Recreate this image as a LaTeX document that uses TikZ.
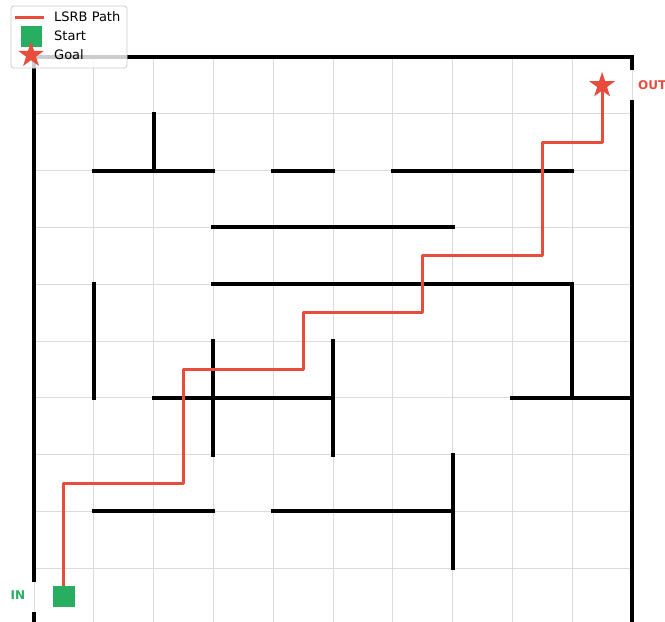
\documentclass[tikz,border=0pt]{standalone}
\usepackage{fontspec}
\setmainfont{DejaVu Sans}
\usetikzlibrary{shapes.geometric}
\definecolor{pathred}{HTML}{E74C3C}
\definecolor{startgreen}{HTML}{27AE60}
\begin{document}
\begin{tikzpicture}[x=59.8pt,y=56.8pt,
  wall/.style={line width=4pt, line cap=rect},
  gridline/.style={line width=0.8pt, draw=black!14},
  route/.style={line width=3pt, draw=pathred, line join=round},
  startbox/.style={fill=startgreen, minimum size=21.5pt, inner sep=0pt},
  goalstar/.style={star, star points=5, star point ratio=2.6, fill=pathred, minimum size=27pt, inner sep=0pt},
  lbl/.style={font=\fontsize{12}{14}\selectfont\bfseries, inner sep=0pt},
  legtext/.style={font=\fontsize{13}{15}\selectfont, anchor=west, inner sep=0pt},
  legbox/.style={draw=black!20, line width=0.8pt, fill=white, fill opacity=0.8, rounded corners=3pt}
]
\useasboundingbox (-0.569,0.070) rectangle (10.552,11.004);
\fill[white] (-0.569,0.070) rectangle (10.552,11.004);
% grid
\foreach \i in {0,...,10} {
  \draw[gridline] (\i,0) -- (\i,10);
  \draw[gridline] (0,\i) -- (10,\i);
}
% outer walls
\draw[wall] (0,10) -- (10,10);
\draw[wall] (0,-0.5) -- (0,0.2);
\draw[wall] (0,0.8) -- (0,10);
\draw[wall] (10,-0.5) -- (10,9.2);
\draw[wall] (10,9.8) -- (10,10);
% interior walls
\draw[wall] (2,8) -- (2,9);
\draw[wall] (1,8) -- (3,8);
\draw[wall] (4,8) -- (5,8);
\draw[wall] (6,8) -- (9,8);
\draw[wall] (3,7) -- (7,7);
\draw[wall] (3,6) -- (9,6);
\draw[wall] (9,6) -- (9,4);
\draw[wall] (8,4) -- (10,4);
\draw[wall] (1,4) -- (1,6);
\draw[wall] (2,4) -- (5,4);
\draw[wall] (3,3) -- (3,5);
\draw[wall] (5,3) -- (5,5);
\draw[wall] (1,2) -- (3,2);
\draw[wall] (4,2) -- (7,2);
\draw[wall] (7,1) -- (7,3);
% path
\coordinate (s) at (0.5,0.5);
\coordinate (g) at (9.5,9.5);
\draw[route] (s) |- (2.5,2.5) |- (4.5,4.5) |- (6.5,5.5) |- (8.5,6.5) |- (9.5,8.5) -- (g);
\node[startbox] (start) at (s) {};
\node[goalstar] (goal) at (g) {};
% labels
\node[lbl, text=startgreen] (inlbl) at (-0.268,0.53) {IN};
\node[lbl, text=pathred, anchor=west] (outlbl) at (10.1,9.51) {OUT};
% legend
\draw[legbox] (-0.385,9.806) rectangle (1.555,10.898);
\coordinate (la) at (-0.318,10.704);
\coordinate (lb) at (0.167,10.704);
\draw[route, line cap=butt] (la) -- (lb);
\node[legtext] (t1) at (0.334,10.704) {LSRB Path};
\node[startbox, minimum size=21pt] (lsq) at (-0.05,10.37) {};
\node[legtext] (t2) at (0.334,10.37) {Start};
\node[goalstar, minimum size=27pt] (lst) at (-0.05,10.035) {};
\node[legtext] (t3) at (0.334,10.035) {Goal};
\end{tikzpicture}
\end{document}
